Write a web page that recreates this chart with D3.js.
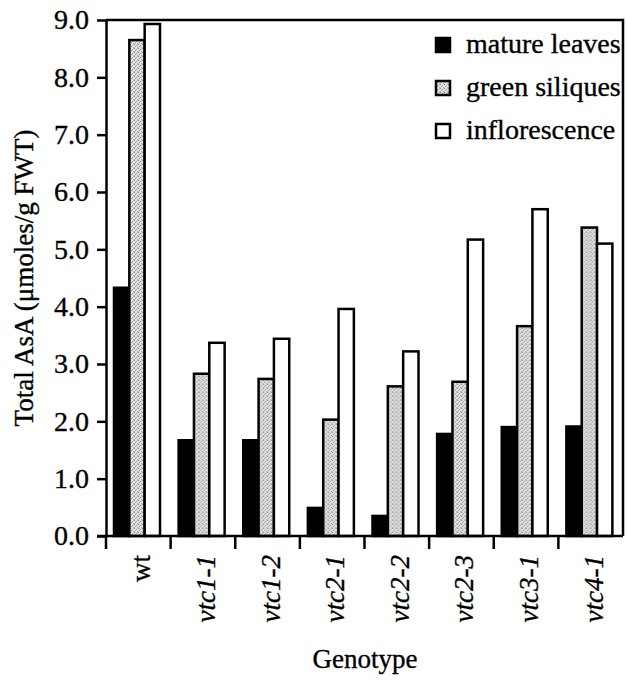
<!DOCTYPE html>
<html>
<head>
<meta charset="utf-8">
<script src="https://cdn.jsdelivr.net/npm/d3@7"></script>
<style>
  html, body { margin: 0; padding: 0; background: #fff; }
  svg { display: block; }
</style>
</head>
<body>
<svg id="chart" width="627" height="680"></svg>
<script>
const categories = ["wt", "vtc1-1", "vtc1-2", "vtc2-1", "vtc2-2", "vtc2-3", "vtc3-1", "vtc4-1"];
const seriesNames = ["mature leaves", "green siliques", "inflorescence"];
const matureLeaves = [4.33, 1.67, 1.67, 0.49, 0.35, 1.78, 1.90, 1.91];
const greenSiliques = [8.65, 2.83, 2.74, 2.03, 2.61, 2.69, 3.66, 5.38];
const inflorescence = [8.93, 3.37, 3.44, 3.96, 3.22, 5.17, 5.70, 5.10];
const yTicks = [0, 1, 2, 3, 4, 5, 6, 7, 8, 9];

const seriesValues = [matureLeaves, greenSiliques, inflorescence];
const FONT = '"Liberation Serif", "Times New Roman", serif';

const svg = d3.select("#chart");
const mLeft = 106, mRight = 623, mTop = 20, mBottom = 536;

// gray stipple pattern
const defs = svg.append("defs");
const pat = defs.append("pattern").attr("id", "stipple")
  .attr("patternUnits", "userSpaceOnUse").attr("width", 4).attr("height", 4);
pat.append("rect").attr("width", 4).attr("height", 4).attr("fill", "#e2e2e2");
[[0,0,"#8a8a8a"],[2,1,"#a0a0a0"],[1,2,"#9a9a9a"],[3,3,"#b4b4b4"],[3,0,"#c4c4c4"],[0,3,"#c0c0c0"]].forEach(p =>
  pat.append("rect").attr("x", p[0]).attr("y", p[1]).attr("width", 1).attr("height", 1).attr("fill", p[2]));

const fills = ["#000", "url(#stipple)", "#fff"];

const x0 = d3.scaleBand().domain(categories).range([mLeft, mRight]).padding(0);
const x1 = d3.scaleBand().domain(seriesNames).range([8, 54]).padding(0);
const y = d3.scaleLinear().domain([0, 9]).range([mBottom, mTop]);

// bars
const groups = svg.append("g").selectAll("g").data(categories).join("g")
  .attr("transform", d => `translate(${x0(d)},0)`);
groups.selectAll("rect")
  .data((d, i) => seriesNames.map((s, j) => ({ s, j, v: seriesValues[j][i] })))
  .join("rect")
  .attr("x", d => x1(d.s))
  .attr("y", d => y(d.v))
  .attr("width", x1.bandwidth())
  .attr("height", d => y(0) - y(d.v))
  .attr("fill", d => fills[d.j])
  .attr("stroke", "#000")
  .attr("stroke-width", 2.5);

// frame top and right
svg.append("path")
  .attr("d", `M${mLeft},${mTop}H${mRight}V${mBottom}`)
  .attr("fill", "none").attr("stroke", "#000").attr("stroke-width", 2.5);

function styleText(sel, size) {
  sel.style("font-family", FONT).attr("font-size", size)
    .attr("fill", "#000").attr("stroke", "#000").attr("stroke-width", 0.35);
}

// y axis
const yAxis = svg.append("g").attr("transform", `translate(${mLeft},0)`)
  .call(d3.axisLeft(y).tickValues(yTicks).tickFormat(d3.format(".1f")).tickSize(9).tickSizeOuter(0).tickPadding(8));
yAxis.select(".domain").attr("stroke-width", 2.5);
yAxis.selectAll(".tick line").attr("stroke-width", 2.5);
yAxis.selectAll(".tick text").call(styleText, 28);

// x axis
const bw = x0.bandwidth();
const xAxis = svg.append("g").attr("transform", `translate(0,${mBottom})`)
  .call(d3.axisBottom(x0).tickSize(13).tickSizeOuter(0).tickPadding(0));
xAxis.select(".domain").attr("stroke-width", 2.5).attr("d", `M${mLeft - 9},0H${mRight}`);
xAxis.selectAll(".tick line").attr("x1", -bw / 2).attr("x2", -bw / 2).attr("stroke-width", 2.5);
xAxis.selectAll(".tick text")
  .call(styleText, 27)
  .style("font-style", d => d === "wt" ? "normal" : "italic")
  .attr("text-anchor", "end")
  .attr("transform", "rotate(-90)")
  .attr("x", -19).attr("y", 12).attr("dy", 0);

// axis titles
svg.append("text")
  .attr("transform", `translate(33,${(mTop + mBottom) / 2}) rotate(-90)`)
  .attr("text-anchor", "middle").call(styleText, 27)
  .text("Total AsA (μmoles/g FWT)");
svg.append("text")
  .attr("x", 365).attr("y", 668)
  .attr("text-anchor", "middle").call(styleText, 27)
  .text("Genotype");

// legend
const legend = svg.append("g").attr("transform", "translate(436,0)");
seriesNames.forEach((s, j) => {
  const by = 53 + j * 43;
  legend.append("rect").attr("x", 0).attr("y", by - 15).attr("width", 14).attr("height", 14)
    .attr("fill", fills[j]).attr("stroke", "#000").attr("stroke-width", 2.5);
  legend.append("text").attr("x", 30).attr("y", by).call(styleText, 28).text(s);
});
</script>
</body>
</html>
